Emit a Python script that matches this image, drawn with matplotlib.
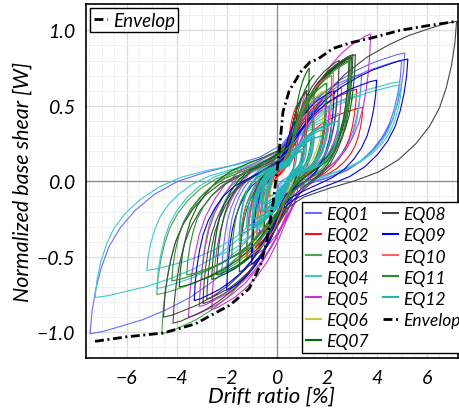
import numpy as np
import matplotlib
matplotlib.use("Agg")
import matplotlib.pyplot as plt
from matplotlib.ticker import MultipleLocator

plt.rcParams['font.family'] = ['Lato', 'DejaVu Sans']
plt.rcParams['font.style'] = 'italic'

# normalised shape of one loading branch (negative peak -> positive peak),
# the unloading branch is the same shape mirrored through the pinch point
loop_u = np.array([-1.0, -0.99, -0.97, -0.94, -0.9, -0.84, -0.76, -0.66, -0.54, -0.4, -0.25,
                   -0.1, 0.02, 0.12, 0.22, 0.34, 0.47, 0.6, 0.72, 0.83, 0.93, 1.0])
loop_v = np.array([-1.0, -0.86, -0.72, -0.58, -0.45, -0.33, -0.22, -0.12, -0.04, 0.02, 0.08,
                   0.15, 0.25, 0.38, 0.52, 0.66, 0.77, 0.85, 0.91, 0.95, 0.985, 1.0])

labels = ["EQ01", "EQ02", "EQ03", "EQ04", "EQ05", "EQ06", "EQ07",
          "EQ08", "EQ09", "EQ10", "EQ11", "EQ12"]
colors = ["#6a6aff", "#ff1010", "#4ca64c", "#3ccaca", "#cc33cc", "#c8c83c", "#006a00",
          "#454545", "#0000e0", "#ff6060", "#2e8b2e", "#22b4b4"]
widths = [0.8, 0.8, 0.8, 0.8, 0.8, 0.8, 0.8, 0.8, 0.8, 0.8, 0.8, 1.0]

# pinch point of each record [drift %, shear W]
centers = [(0.1, 0.04), (0.4, 0.03), (0.4, 0.05), (0.2, 0.06), (0.8, 0.1), (0.5, 0.08),
           (0.6, 0.1), (0.4, 0.02), (0.2, 0.0), (0.5, 0.06), (0.5, 0.05), (0.5, 0.08)]

# cycle peaks, alternating negative / positive
eq01_drift = [-0.6, 2.4, -7.47, 5.13, -2.2, 5.0, -2.0, 3.4, -1.2, 2.0, -0.8, 1.2, -0.4, 0.7]
eq01_shear = [-0.2, 0.55, -1.01, 0.85, -0.62, 0.8, -0.6, 0.71, -0.45, 0.5, -0.35, 0.35, -0.2, 0.25]
eq02_drift = [-0.5, 0.8, -1.5, 3.2, -1.0, 3.45, -0.7, 2.0, -0.5, 1.5, -0.4, 0.6]
eq02_shear = [-0.3, 0.5, -0.5, 0.61, -0.45, 0.49, -0.35, 0.55, -0.3, 0.4, -0.2, 0.35]
eq03_drift = [-0.6, 2.0, -4.6, 2.95, -4.8, 2.2, -3.0, 2.0, -1.5, 1.0]
eq03_shear = [-0.3, 0.6, -1.01, 0.82, -0.75, 0.7, -0.65, 0.65, -0.55, 0.4]
eq04_drift = [-1.0, 2.0, -7.27, 4.93, -5.2, 5.0, -4.8, 3.33, -2.5, 2.5, -1.5, 1.5, -0.8, 1.0]
eq04_shear = [-0.3, 0.4, -0.77, 0.66, -0.59, 0.64, -0.71, 0.57, -0.5, 0.45, -0.4, 0.35, -0.25, 0.25]
eq05_drift = [-0.6, 1.2, -3.53, 3.76, -3.1, 2.6, -2.6, 2.1, -1.0, 1.0]
eq05_shear = [-0.3, 0.6, -0.9, 0.975, -0.83, 0.62, -0.85, 0.5, -0.5, 0.45]
eq06_drift = [-0.6, 1.9, -0.9, 1.2, -0.3, 0.6]
eq06_shear = [-0.35, 0.6, -0.45, 0.5, -0.2, 0.3]
eq07_drift = [-0.5, 1.3, -3.9, 3.15, -2.6, 3.0, -2.4, 2.9, -1.2, 1.5]
eq07_shear = [-0.3, 0.75, -0.7, 0.84, -0.65, 0.82, -0.62, 0.8, -0.5, 0.7]
eq08_drift = [-1.0, 1.2, -4.53, 3.05, -4.15, 7.2, -2.95, 2.9, -2.8, 2.5, -1.5, 1.2]
eq08_shear = [-0.5, 0.6, -0.9, 0.84, -0.94, 1.06, -0.81, 0.82, -0.78, 0.8, -0.6, 0.6]
eq09_drift = [-1.0, 5.25, -3.3, 4.0, -2.0, 2.3, -1.0, 0.9]
eq09_shear = [-0.5, 0.81, -0.79, 0.67, -0.72, 0.6, -0.55, 0.42]
eq10_drift = [-0.8, 2.27, -1.2, 1.2, -0.4, 0.7]
eq10_shear = [-0.4, 0.72, -0.5, 0.45, -0.2, 0.3]
eq11_drift = [-1.0, 1.5, -4.2, 3.0, -3.6, 2.0, -1.8, 1.3]
eq11_shear = [-0.4, 0.6, -0.66, 0.8, -0.62, 0.65, -0.5, 0.55]
eq12_drift = [-0.8, 1.5, -0.5, 2.0, -1.2, 1.2, -0.6, 1.8, -0.9, 1.0, -0.3, 0.8,
              -1.0, 2.2, -0.7, 1.4, -0.4, 1.1, -1.5, 2.5, -0.6, 0.9]
eq12_shear = [-0.2, 0.3, -0.25, 0.35, -0.3, 0.25, -0.15, 0.3, -0.25, 0.2, -0.1, 0.2,
              -0.3, 0.38, -0.2, 0.28, -0.15, 0.22, -0.35, 0.4, -0.2, 0.24]

env_drift = [-7.27, -6.0, -4.54, -3.27, -1.87, -1.1, -0.64, -0.4, -0.15, 0.05, 0.2, 0.25,
             0.5, 0.8, 0.93, 1.33, 1.65, 2.25, 3.0, 3.8, 4.93, 6.0, 7.2]
env_shear = [-1.06, -1.03, -1.005, -0.945, -0.82, -0.71, -0.55, -0.4, -0.15, 0.12, 0.37, 0.46,
             0.6, 0.68, 0.72, 0.79, 0.81, 0.88, 0.92, 0.95, 1.0, 1.03, 1.06]

records = [(eq01_drift, eq01_shear), (eq02_drift, eq02_shear), (eq03_drift, eq03_shear),
           (eq04_drift, eq04_shear), (eq05_drift, eq05_shear), (eq06_drift, eq06_shear),
           (eq07_drift, eq07_shear), (eq08_drift, eq08_shear), (eq09_drift, eq09_shear),
           (eq10_drift, eq10_shear), (eq11_drift, eq11_shear), (eq12_drift, eq12_shear)]


def branch(neg, pos, c, up):
    """ one half cycle between a negative and a positive peak """
    u = loop_u if up else -loop_u
    v = loop_v if up else -loop_v
    x = np.where(u >= 0, c[0] + u * (pos[0] - c[0]), c[0] + u * (c[0] - neg[0]))
    y = np.where(v >= 0, c[1] + v * (pos[1] - c[1]), c[1] + v * (c[1] - neg[1]))
    return x, y


def response(drift, shear, c):
    xs, ys = [], []
    peaks = list(zip(drift, shear))
    for k in range(len(peaks) - 1):
        a, b = peaks[k], peaks[k + 1]
        if k % 2 == 0:
            x, y = branch(a, b, c, True)
        else:
            x, y = branch(b, a, c, False)
        xs.append(x)
        ys.append(y)
    return np.concatenate(xs), np.concatenate(ys)


fig = plt.figure(figsize=(4.59, 4.14), dpi=100)
ax = fig.add_axes([0.187, 0.133, 0.811, 0.855])

ax.set_xlim(-7.64, 7.26)
ax.set_ylim(-1.17, 1.175)
ax.xaxis.set_major_locator(MultipleLocator(2))
ax.xaxis.set_minor_locator(MultipleLocator(0.5))
ax.yaxis.set_major_locator(MultipleLocator(0.5))
ax.yaxis.set_minor_locator(MultipleLocator(0.1))
ax.grid(which='major', color='#dcdcdc', lw=0.9)
ax.grid(which='minor', color='#f0f0f0', lw=0.7)
ax.set_axisbelow(True)
ax.axhline(0, color='#8c8c8c', lw=0.9, zorder=1)
ax.axvline(0, color='#8c8c8c', lw=0.9, zorder=1)
ax.tick_params(which='both', length=0, labelsize=14, pad=8)
for s in ax.spines.values():
    s.set_linewidth(1.2)

handles = []
for (d, v), c, col, lw, lab in zip(records, centers, colors, widths, labels):
    x, y = response(d, v, c)
    h, = ax.plot(x, y, color=col, lw=lw, label=lab, zorder=2)
    handles.append(h)

env, = ax.plot(env_drift, env_shear, color='k', lw=2.0, dashes=(3.2, 1.3, 0.7, 1.3),
               label='Envelop', zorder=3)
handles.append(env)

ax.set_xlabel('Drift ratio [%]', fontsize=16, labelpad=0)
ax.set_ylabel('Normalized base shear [W]', fontsize=15.5, labelpad=3)

leg2 = ax.legend(handles, [h.get_label() for h in handles], ncol=2, loc='lower left',
                 bbox_to_anchor=(0.581, 0.014), borderaxespad=0,
                 fontsize=12.5, frameon=True, fancybox=False, edgecolor='k',
                 framealpha=1, handlelength=0.85, handletextpad=0.3,
                 columnspacing=0.8, labelspacing=0.29, borderpad=0.25)
leg2.get_frame().set_linewidth(1.0)
for ln in leg2.get_lines()[:-1]:
    ln.set_linewidth(1.5)
ax.add_artist(leg2)

leg1 = ax.legend([env], ['Envelop'], loc='upper left', bbox_to_anchor=(0.0116, 0.9887),
                 borderaxespad=0, fontsize=13.5, frameon=True, fancybox=False,
                 edgecolor='k', framealpha=1, handlelength=0.7, handletextpad=0.3,
                 borderpad=0.2)
leg1.get_frame().set_linewidth(1.0)

fig.savefig('out.png', dpi=100)
